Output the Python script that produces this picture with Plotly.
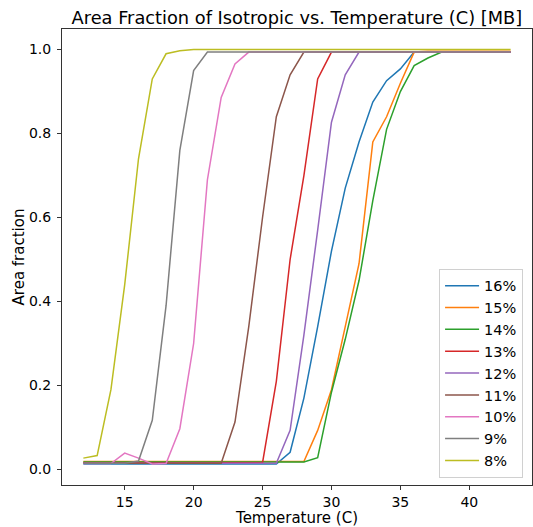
import plotly.graph_objects as go

temps = list(range(12, 44))

s16 = [0.013]*15 + [0.041, 0.17, 0.34, 0.52, 0.67, 0.78, 0.875, 0.926, 0.954, 0.994, 0.994, 0.994, 0.994, 0.994, 0.994, 0.994, 0.994]
s15 = [0.019]*17 + [0.093, 0.19, 0.34, 0.49, 0.78, 0.84, 0.92, 0.994, 0.996, 0.996, 0.996, 0.996, 0.996, 0.996, 0.996]
s14 = [0.018]*17 + [0.028, 0.184, 0.31, 0.45, 0.64, 0.81, 0.90, 0.962, 0.98, 0.994, 0.994, 0.994, 0.994, 0.994, 0.994]
s13 = [0.016]*14 + [0.21, 0.50, 0.70, 0.93, 0.994] + [0.994]*13
s12 = [0.015]*15 + [0.093, 0.32, 0.57, 0.827, 0.94, 0.994] + [0.994]*11
s11 = [0.015]*11 + [0.113, 0.34, 0.60, 0.84, 0.94, 0.994] + [0.994]*15
s10 = [0.014, 0.014, 0.014, 0.039, 0.027, 0.013, 0.014, 0.097, 0.30, 0.69, 0.886, 0.966, 0.994] + [0.994]*19
s9 = [0.015, 0.015, 0.015, 0.015, 0.02, 0.117, 0.39, 0.76, 0.95, 0.994] + [0.994]*22
s8 = [0.027, 0.033, 0.19, 0.44, 0.74, 0.93, 0.99, 0.997, 1.0] + [1.0]*23

names = ["16%", "15%", "14%", "13%", "12%", "11%", "10%", "9%", "8%"]
series = [s16, s15, s14, s13, s12, s11, s10, s9, s8]
colors = ["#1f77b4", "#ff7f0e", "#2ca02c", "#d62728", "#9467bd",
          "#8c564b", "#e377c2", "#7f7f7f", "#bcbd22"]

x_ticks = [15, 20, 25, 30, 35, 40]
y_ticks = [0.0, 0.2, 0.4, 0.6, 0.8, 1.0]

fig = go.Figure()
for n, s, c in zip(names, series, colors):
    fig.add_trace(go.Scatter(x=temps, y=s, mode="lines", name=n,
                             line=dict(color=c, width=1.5)))

font = "DejaVu Sans, sans-serif"
fig.update_layout(
    width=533, height=527,
    margin=dict(l=61.5, r=1, t=29, b=41.5, autoexpand=False),
    paper_bgcolor="white", plot_bgcolor="white",
    font=dict(family=font, size=14, color="black"),
    title=dict(text="Area Fraction of Isotropic vs. Temperature (C) [MB]",
               x=0.557, xanchor="center", y=0.967, yanchor="middle",
               font=dict(size=17.8, family=font, color="black")),
    legend=dict(x=0.981, xanchor="right", y=0.016, yanchor="bottom",
                bgcolor="rgba(255,255,255,0.8)", bordercolor="#d0d0d0",
                borderwidth=1, font=dict(size=14.5, family=font),
                itemwidth=34, tracegroupgap=0),
    showlegend=True,
)
fig.update_xaxes(range=[10.45, 44.55], tickvals=x_ticks,
                 ticktext=[str(v) for v in x_ticks], automargin=False,
                 showgrid=False, zeroline=False, showline=True, mirror=True,
                 linecolor="#333", linewidth=1, ticks="outside", ticklen=4,
                 tickcolor="#333", tickfont=dict(size=14),
                 title=dict(text="Temperature (C)", standoff=0, font=dict(size=15)))
fig.update_yaxes(range=[-0.037, 1.049], tickvals=y_ticks,
                 ticktext=["%.1f" % v for v in y_ticks], automargin=False,
                 showgrid=False, zeroline=False, showline=True, mirror=True,
                 linecolor="#333", linewidth=1, ticks="outside", ticklen=4,
                 tickcolor="#333", tickfont=dict(size=14), ticklabelstandoff=3,
                 title=dict(text="Area fraction", standoff=0, font=dict(size=15)))

fig.write_html("out.html", config={"displayModeBar": False},
               post_script="document.body.style.margin='0';document.body.style.overflow='hidden';")
